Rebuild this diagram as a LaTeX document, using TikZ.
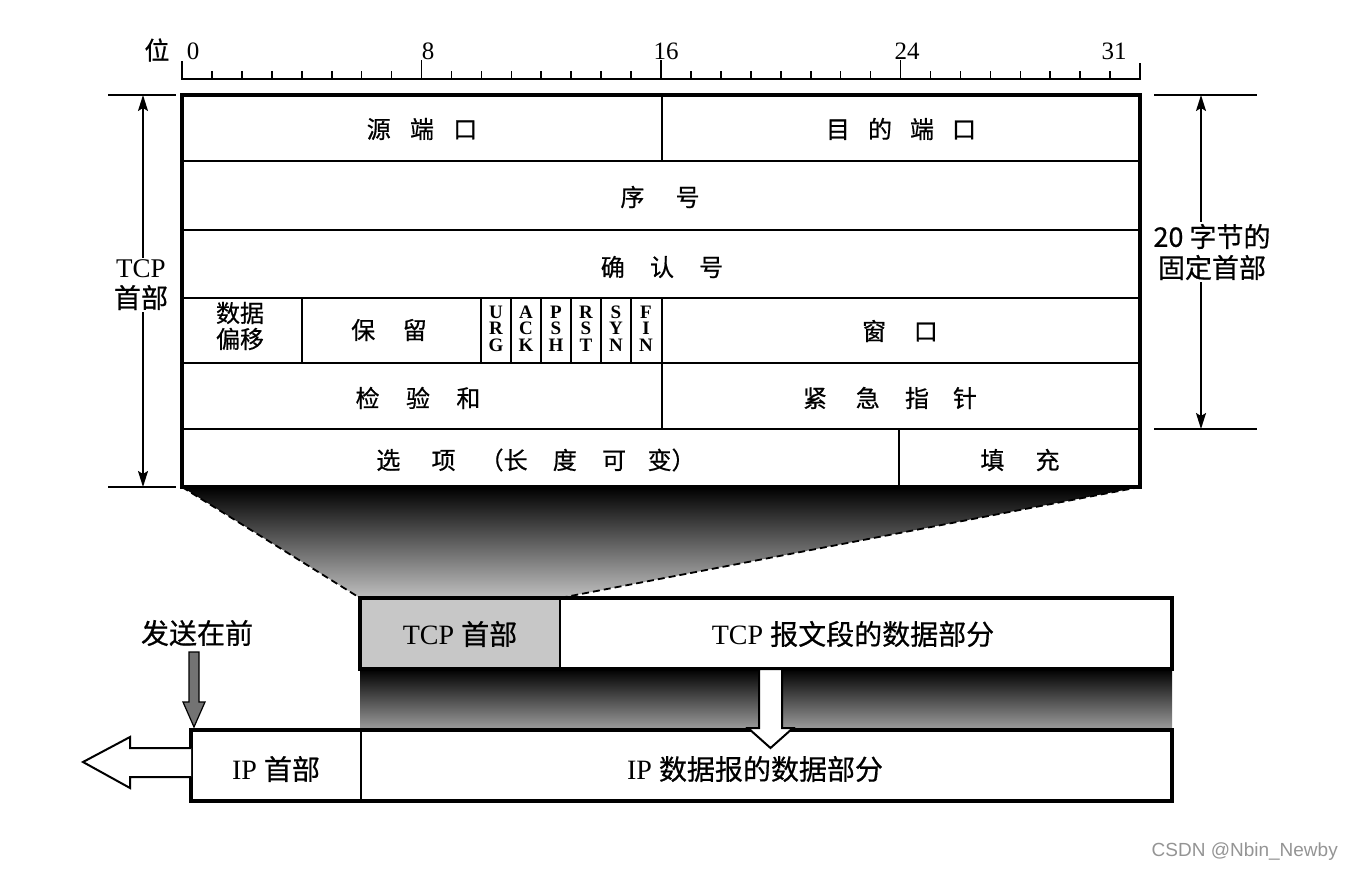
\documentclass[tikz,border=0pt]{standalone}
\usepackage{fontspec}
\setmainfont{Liberation Serif}
\newfontfamily\cjk[FakeBold=0.6]{Noto Sans CJK SC}
\newfontfamily\wmfont{Liberation Sans}
\usetikzlibrary{arrows.meta}
\newcommand\gp[1]{\hspace{#1em}}
\begin{document}
\begin{tikzpicture}[x=1pt,y=-1pt,
  inner/.style={line width=1.7pt},
  outer/.style={line width=3.6pt},
  cell/.style={font=\cjk\fontsize{24}{27}\selectfont, inner sep=0pt, align=center},
  big/.style={font=\fontsize{28}{32}\selectfont, inner sep=0pt},
  num/.style={font=\fontsize{25}{28}\selectfont, inner sep=0pt},
  flagl/.style={font=\bfseries\fontsize{19}{19}\selectfont, inner sep=0pt, text height=12pt, text depth=0pt},
  dimarr/.style={line width=1.6pt, -{Stealth[length=16pt,width=10pt,inset=3pt]}},
  dashl/.style={line width=1.8pt, dash pattern=on 7pt off 4pt},
  hollow/.style={draw, fill=white, line width=2pt, line join=miter},
]
\useasboundingbox (0,0) rectangle (1352,873);

% ---------- funnel shading from header to TCP header box ----------
\coordinate (hdrBL) at (182,487);
\coordinate (hdrBR) at (1140,487);
\coordinate (segTL) at (360,598);
\coordinate (segHR) at (560,598);
\shade[top color=black, middle color=black!68, bottom color=black!25]
  (hdrBL) -- (hdrBR) -- (segHR) -- (segTL) -- cycle;
\draw[dashl] (hdrBL) -- (segTL);
\draw[dashl] (hdrBR) -- (segHR);

% ---------- bit ruler ----------
\draw[line width=1.8pt] (182,61) -- (182,79) -- (1140,79) -- (1140,63);
\foreach \b in {1,...,7,9,10,...,15,17,18,...,23,25,26,...,31}
  \draw[line width=1.6pt] ({182+29.94*\b},79) -- ++(0,-8);
\foreach \b in {8,16,24}
  \draw[line width=1.6pt] ({182+29.94*\b},79) -- ++(0,-19);
\node[cell, font=\cjk\fontsize{25}{28}\selectfont] (wei) at (157,50) {位};
\node[num] (b0)  at (193,51) {0};
\node[num] (b8)  at (428,51) {8};
\node[num] (b16) at (666,51) {16};
\node[num] (b24) at (907,51) {24};
\node[num] (b31) at (1114,51) {31};

% ---------- header table ----------
\fill[white] (182,95) rectangle (1140,487);
\foreach \y in {161,230,298,363,429}
  \draw[inner] (182,\y) -- (1140,\y);
\draw[inner] (662,95) -- (662,161);
\draw[inner] (302,298) -- (302,363);
\foreach \x in {481,511,541,571,601,631,662}
  \draw[inner] (\x,298) -- (\x,363);
\draw[inner] (662,363) -- (662,429);
\draw[inner] (899,429) -- (899,487);
\draw[outer] (182,95) rectangle (1140,487);

\node[cell] (srcport) at (422,129) {源\gp{0.8}端\gp{0.8}口};
\node[cell] (dstport) at (901,129) {目\gp{0.75}的\gp{0.75}端\gp{0.75}口};
\node[cell] (seq)     at (660,197) {序\gp{1.3}号};
\node[cell] (ack)     at (662,267) {确\gp{1.05}认\gp{1.05}号};
\node[cell] (offset)  at (240,326) {数据\\[-1pt]偏移};
\node[cell] (resv)    at (389,330) {保\gp{1.15}留};
\node[cell] (win)     at (900,331) {窗\gp{1.15}口};
\node[cell] (csum)    at (418,398) {检\gp{1.1}验\gp{1.1}和};
\node[cell] (urgp)    at (890,398) {紧\gp{1.2}急\gp{1.05}指\gp{1.0}针};
\node[cell] (opts)    at (536,460) {选\gp{1.3}项\gp{1.0}（长\gp{1.05}度\gp{1.05}可\gp{0.9}变）};
\node[cell] (pad)     at (1020,460) {填\gp{1.3}充};

\foreach \i/\a/\b/\c in {0/U/R/G,1/A/C/K,2/P/S/H,3/R/S/T,4/S/Y/N,5/F/I/N}{
  \node[flagl] (fa\i) at ({496+30*\i},312) {\a};
  \node[flagl] (fb\i) at ({496+30*\i},328.5) {\b};
  \node[flagl] (fc\i) at ({496+30*\i},345) {\c};
}

% ---------- dimension marks ----------
\draw[inner] (108,95) -- (176,95);
\draw[inner] (108,487) -- (176,487);
\draw[inner] (1154,95) -- (1257,95);
\draw[inner] (1154,429) -- (1257,429);
\coordinate (ltop) at (143,95);
\coordinate (lbot) at (143,487);
\coordinate (rtop) at (1201,95);
\coordinate (rbot) at (1201,429);
\node[font=\fontsize{27}{30}\selectfont, align=center, inner sep=2pt] (tcplbl) at (141,285) {TCP\\{\cjk 首部}};
\node[font=\cjk\fontsize{27}{31}\selectfont, align=center, inner sep=2pt] (fixlbl) at (1212,252) {20 字节的\\固定首部};
\draw[dimarr] (tcplbl.north -| ltop) -- (ltop);
\draw[dimarr] (tcplbl.south -| lbot) -- (lbot);
\draw[dimarr] (fixlbl.north -| rtop) -- (rtop);
\draw[dimarr] (fixlbl.south -| rbot) -- (rbot);

% ---------- TCP segment ----------
\shade[top color=black, middle color=black!62, bottom color=black!38] (360,669) rectangle (1172,730);
\fill[black!22] (360,598) rectangle (560,669);
\fill[white] (560,598) rectangle (1172,669);
\draw[inner] (560,598) -- (560,669);
\draw[outer] (360,598) rectangle (1172,669);
\node[big] (tcph) at (460,634) {TCP {\cjk 首部}};
\node[big] (tcpd) at (853,634) {TCP {\cjk 报文段的数据部分}};

% ---------- IP datagram ----------
\fill[white] (191,730) rectangle (1172,801);
\draw[inner] (361,730) -- (361,801);
\draw[outer] (191,730) rectangle (1172,801);
\node[big] (iph) at (276,769) {IP {\cjk 首部}};
\node[big] (ipd) at (755,769) {IP {\cjk 数据报的数据部分}};

% hollow arrow from TCP data down into IP data
\draw[hollow] (759,669) -- (782,669) -- (782,728) -- (793,728) -- (770.5,748)
  -- (748,728) -- (759,728) -- cycle;
% hollow arrow pointing left (direction of sending)
\draw[hollow] (191,748) -- (130,748) -- (130,737) -- (83,762) -- (130,788)
  -- (130,777) -- (191,777);

% "sent first" marker
\node[font=\cjk\fontsize{28}{31}\selectfont, inner sep=0pt] (first) at (197,633) {发送在前};
\draw[fill=black!55, line width=1.2pt, line join=miter] (189,652) -- (199,652) -- (199,702)
  -- (205,702) -- (194,727) -- (183,702) -- (189,702) -- cycle;

% watermark
\node[font=\wmfont\fontsize{19}{22}\selectfont, text=black!42, anchor=east, inner sep=0pt] (wm) at (1338,852) {CSDN @Nbin\_Newby};
\end{tikzpicture}
\end{document}
